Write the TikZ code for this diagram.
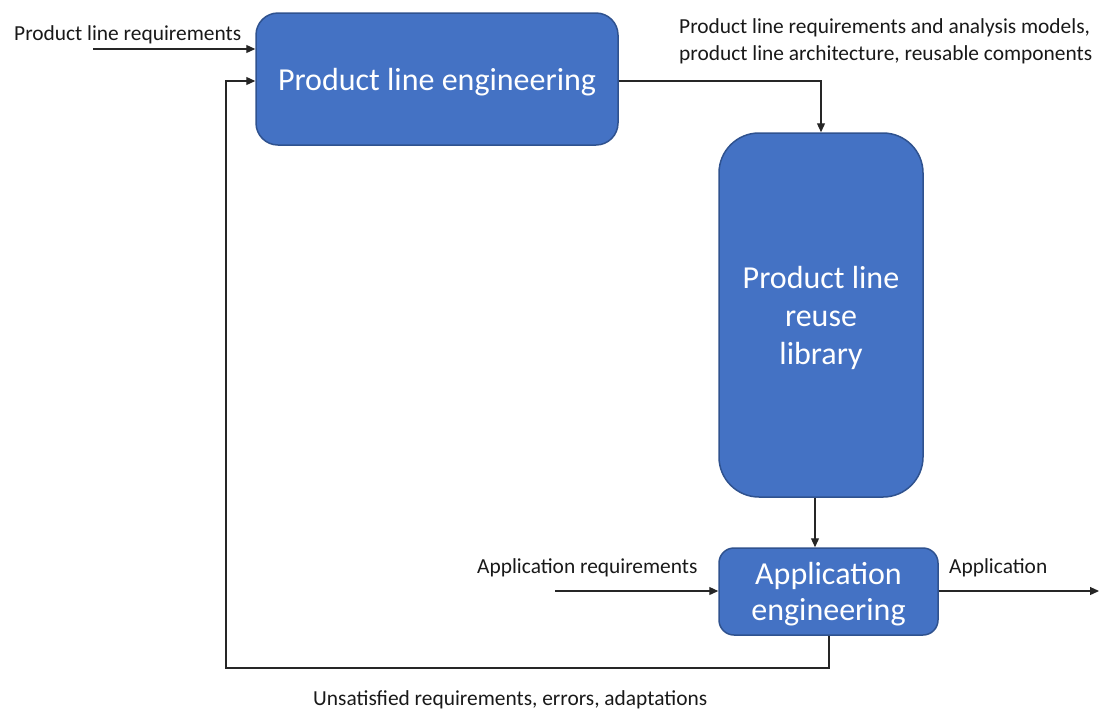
\documentclass[tikz,border=0pt]{standalone}
\usepackage{fontspec}
\setmainfont{Carlito}
\usetikzlibrary{arrows.meta}
\definecolor{boxfill}{HTML}{4472C4}
\definecolor{boxline}{HTML}{2F528F}
\tikzset{
  block/.style={draw=boxline, line width=1.5pt, fill=boxfill, inner sep=0pt},
  boxtext/.style={text=white, align=center, inner sep=0pt, yshift=-3pt},
  conn/.style={draw=black!85, line width=1.2pt, -{Triangle[length=9pt,width=8pt]}},
  lbl/.style={font=\fontsize{21.4}{26}\selectfont, text=black!90, inner sep=0pt, align=left},
  big/.style={font=\fontsize{32}{38}\selectfont}
}
\begin{document}
\begin{tikzpicture}[x=1pt,y=-1pt]
\useasboundingbox (0,0) rectangle (1099,710);

% blocks
\node[block, rounded corners=22pt, minimum width=362pt, minimum height=132pt,
  label={[boxtext, big]center:Product line engineering}] (ple) at (437,79) {};
\node[block, rounded corners=40pt, minimum width=204pt, minimum height=364pt,
  label={[boxtext, big]center:{Product line\\reuse\\library}}] (lib) at (821,315) {};
\node[block, rounded corners=15pt, minimum width=219pt, minimum height=87pt,
  label={[boxtext, font=\fontsize{32}{36}\selectfont]center:{Application\\engineering}}] (ae) at (828.5,591.5) {};

% free ends
\coordinate (plrin) at (93,49);
\coordinate (arin) at (555,591);
\coordinate (appout) at (1099,591);

% connectors
\draw[conn] (plrin) -- (plrin -| ple.west);
\draw[conn] (ple.east |- 0,81) -| (lib.north -| 821,0);
\draw[conn] (lib.south -| 815,0) -- (ae.north -| 815,0);
\draw[conn] (arin) -- (arin -| ae.west);
\draw[conn] (ae.east |- appout) -- (appout);
\draw[conn] (ae.south -| 829,0) |- (226,668) |- (ple.west |- 0,81);

% labels
\node[lbl, anchor=west] (l1) at (14,35) {Product line requirements};
\node[lbl, anchor=west, font=\fontsize{21.4}{26.5}\selectfont] (l2) at (679,41.5) {Product line requirements and analysis models,\\product line architecture, reusable components};
\node[lbl, anchor=west] (l3) at (477,568) {Application requirements};
\node[lbl, anchor=west] (l4) at (949,568) {Application};
\node[lbl, anchor=west] (l5) at (313,700) {Unsatisfied requirements, errors, adaptations};
\end{tikzpicture}
\end{document}
